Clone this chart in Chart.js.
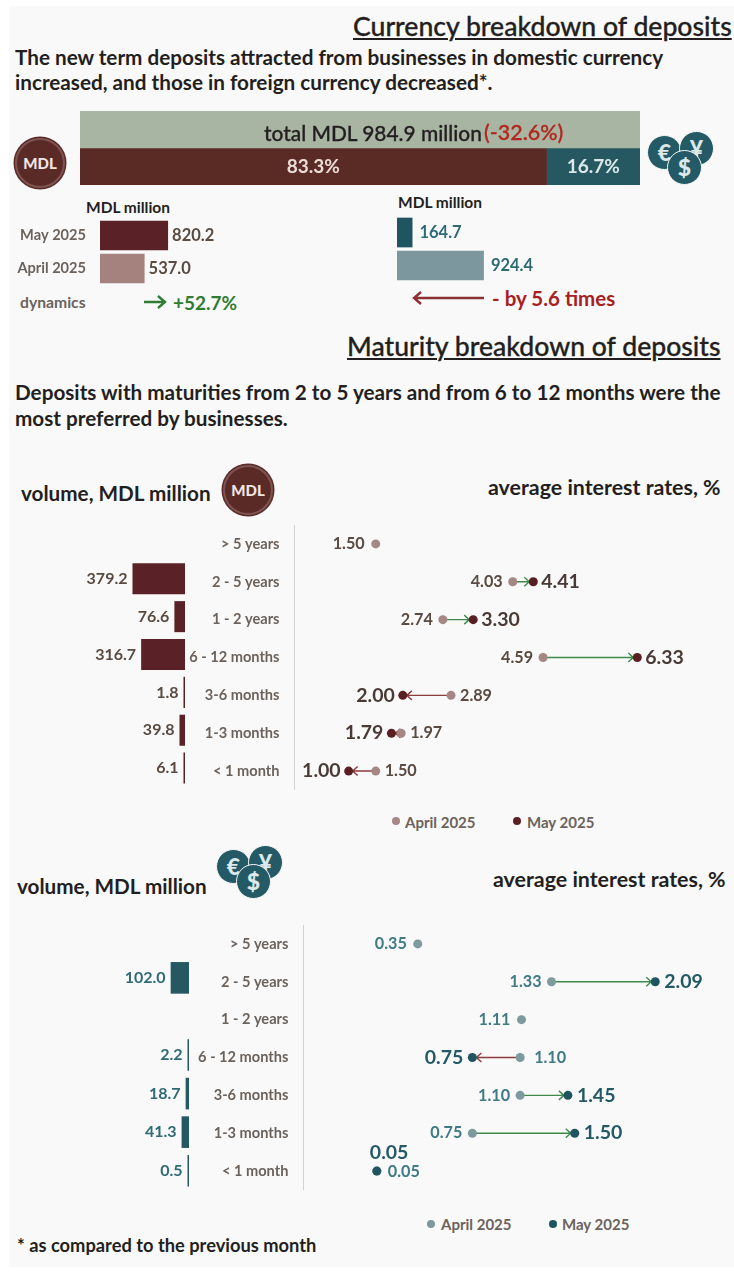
<!DOCTYPE html>
<html>
<head>
<meta charset="utf-8">
<title>Deposits breakdown</title>
<script src="https://cdn.jsdelivr.net/npm/chart.js@4"></script>
<style>
html, body { margin: 0; padding: 0; background: #fff; }
#page { position: relative; width: 734px; height: 1272px; overflow: hidden; font-family: Lato, sans-serif; color: #231f20; }
#panel { position: absolute; left: 9px; top: 6px; width: 725px; height: 1261px; background: #f9f9f9; }
canvas { position: absolute; }
.t { position: absolute; white-space: nowrap; line-height: 1; }
.h1 { font-size: 26.6px; font-weight: 500; -webkit-text-stroke: 0.3px #231f20; text-decoration: underline; text-decoration-thickness: 2px; text-underline-offset: 2px; }
.h2 { font-size: 20.7px; font-weight: 700; }
.unit { font-size: 15.5px; font-weight: 700; }
.vol { font-size: 20.7px; font-weight: 700; }
.rate { font-size: 21.4px; font-weight: 700; }
.lg { font-size: 15px; font-weight: 700; color: #6b625c; }
.dot { position: absolute; width: 8px; height: 8px; border-radius: 50%; }
.mdl { position: absolute; width: 46px; height: 46px; border-radius: 50%; background: #5a2a27; border: 2px solid #7d5450; box-shadow: 0 0 0 1.5px #5a2a27; color: #f0e6e3; font: 900 15px/46px Lato, sans-serif; text-align: center; }
.fx { position: absolute; width: 66px; height: 52px; }
.coin { position: absolute; width: 33px; height: 33px; border-radius: 50%; background: #245a65; border: 1px solid #f9f9f9; color: #dce8ea; font: 900 23px/33px Lato, sans-serif; text-align: center; }
</style>
</head>
<body>
<div id="page">
  <div id="panel"></div>

  <div class="t h1" style="left:353px;top:13px">Currency breakdown of deposits</div>
  <div class="t h2" style="left:15px;top:47px">The new term deposits attracted from businesses in domestic currency</div>
  <div class="t h2" style="left:15px;top:72px">increased, and those in foreign currency decreased*.</div>

  <canvas id="shareChart" width="560" height="74" style="left:80px;top:111px"></canvas>
  <div class="t" style="left:264px;top:123px;font-size:20.9px;font-weight:500;-webkit-text-stroke:0.3px #231f20">total MDL 984.9 million</div>
  <div class="t" style="left:484px;top:122px;font-size:21.5px;font-weight:500;color:#b3261e;-webkit-text-stroke:0.3px #b3261e">(-32.6%)</div>
  <div class="mdl" style="left:15px;top:138px">MDL</div>
  <div class="fx" style="left:647px;top:131px">
    <div class="coin" style="left:0;top:4px">€</div>
    <div class="coin" style="left:32px;top:0">¥</div>
    <div class="coin" style="left:20px;top:19px">$</div>
  </div>

  <div class="t unit" style="left:86px;top:200px">MDL million</div>
  <div class="t unit" style="left:398px;top:195px">MDL million</div>
  <canvas id="mdlTotalChart" width="339" height="66" style="left:10px;top:219px"></canvas>
  <canvas id="fxTotalChart" width="282" height="66" style="left:397px;top:216px"></canvas>

  <div class="t" style="left:20px;top:295px;font-size:15.7px;font-weight:700;color:#6b625c">dynamics</div>
  <svg style="position:absolute;left:140px;top:292px" width="30" height="20"><path d="M4 10H25M18 4L25 10L18 16" fill="none" stroke="#2f7d32" stroke-width="2.4"/></svg>
  <div class="t" style="left:173px;top:293px;font-size:19px;font-weight:700;color:#2f7d32">+52.7%</div>
  <svg style="position:absolute;left:410px;top:288px" width="78" height="20"><path d="M74 10H4M11 4L4 10L11 16" fill="none" stroke="#8d3033" stroke-width="2.4"/></svg>
  <div class="t" style="left:492px;top:288px;font-size:20.5px;font-weight:700;color:#a8201f">- by 5.6 times</div>

  <div class="t h1" style="left:347px;top:333px">Maturity breakdown of deposits</div>
  <div class="t h2" style="left:15px;top:382px">Deposits with maturities from 2 to 5 years and from 6 to 12 months were the</div>
  <div class="t h2" style="left:15px;top:408px">most preferred by businesses.</div>

  <div class="t vol" style="left:21px;top:483px">volume, MDL million</div>
  <div class="mdl" style="left:223px;top:465px">MDL</div>
  <div class="t rate" style="left:488px;top:477px">average interest rates, %</div>
  <canvas id="mdlVolumeChart" width="185" height="265" style="left:0;top:522px"></canvas>
  <canvas id="mdlRateChart" width="549" height="265" style="left:185px;top:525px"></canvas>
  <div class="dot" style="left:392px;top:817px;background:#a58784"></div>
  <div class="t lg" style="left:405px;top:815px">April 2025</div>
  <div class="dot" style="left:513px;top:817px;background:#5a1f22"></div>
  <div class="t lg" style="left:527px;top:815px">May 2025</div>

  <div class="t vol" style="left:17px;top:876px">volume, MDL million</div>
  <div class="fx" style="left:216px;top:845px">
    <div class="coin" style="left:0;top:4px">€</div>
    <div class="coin" style="left:32px;top:0">¥</div>
    <div class="coin" style="left:20px;top:19px">$</div>
  </div>
  <div class="t rate" style="left:493px;top:869px">average interest rates, %</div>
  <canvas id="fxVolumeChart" width="189" height="270" style="left:0;top:920px"></canvas>
  <canvas id="fxRateChart" width="545" height="265" style="left:189px;top:925px"></canvas>
  <div class="dot" style="left:427px;top:1220px;background:#7d9a9d"></div>
  <div class="t lg" style="left:441px;top:1217px">April 2025</div>
  <div class="dot" style="left:549px;top:1220px;background:#1f5560"></div>
  <div class="t lg" style="left:562px;top:1217px">May 2025</div>

  <div class="t" style="left:17px;top:1236px;font-size:18.3px;font-weight:700">* as compared to the previous month</div>
</div>

<script>
// Share of the total by currency
const shareRows = ["total", "split"];
const shareTotal = [100, null];
const shareMdl = [null, 83.3];
const shareFx = [null, 16.7];

// Volumes by month, MDL million
const monthLabels = ["May 2025", "April 2025"];
const mdlMonthly = [820.2, 537.0];
const fxMonthly = [164.7, 924.4];

// Maturity breakdown
const maturities = ["> 5 years", "2 - 5 years", "1 - 2 years", "6 - 12 months", "3-6 months", "1-3 months", "< 1 month"];
const mdlVolume = [null, 379.2, 76.6, 316.7, 1.8, 39.8, 6.1];
const mdlRateApril = [1.50, 4.03, 2.74, 4.59, 2.89, 1.97, 1.50];
const mdlRateMay = [null, 4.41, 3.30, 6.33, 2.00, 1.79, 1.00];
const fxVolume = [null, 102.0, null, 2.2, 18.7, 41.3, 0.5];
const fxRateApril = [0.35, 1.33, 1.11, 1.10, 1.10, 0.75, 0.05];
const fxRateMay = [null, 2.09, null, 0.75, 1.45, 1.50, 0.05];

const FONT = "Lato, sans-serif";
const GREEN = "#3f8a4a";
const RED = "#8d3b3b";
const TICK_FONT = { family: FONT, size: 14.6, weight: "700" };

// Writes the value next to each bar, or in the middle of it
const barTextPlugin = {
    id: "barText",
    afterDatasetsDraw(chart) {
        const ctx = chart.ctx;
        chart.data.datasets.forEach((ds, d) => {
            if (!ds.textColor) return;
            chart.getDatasetMeta(d).data.forEach((el, i) => {
                const v = ds.data[i];
                if (v === null) return;
                ctx.save();
                ctx.font = ds.textFont;
                ctx.fillStyle = ds.textColor;
                ctx.textBaseline = "middle";
                if (ds.textCenter) {
                    ctx.textAlign = "center";
                    ctx.fillText(v.toFixed(1) + "%", (el.x + el.base) / 2, el.y);
                } else {
                    const dir = el.x > el.base ? 1 : -1;
                    ctx.textAlign = dir > 0 ? "left" : "right";
                    ctx.fillText(v.toFixed(1), el.x + dir * ds.textGap, el.y);
                }
                ctx.restore();
            });
        });
    }
};

// Arrow from the April dot to the May dot, with the two rates written beside them
const rateArrowPlugin = {
    id: "rateArrow",
    beforeDatasetsDraw(chart) {
        const ctx = chart.ctx;
        const april = chart.getDatasetMeta(0).data;
        const may = chart.getDatasetMeta(1).data;
        const [aprilData, mayData] = chart.data.datasets.map(ds => ds.data);
        april.forEach((a, i) => {
            if (mayData[i] === null || mayData[i] === aprilData[i]) return;
            const m = may[i];
            const dir = mayData[i] > aprilData[i] ? 1 : -1;
            ctx.save();
            ctx.strokeStyle = dir > 0 ? GREEN : RED;
            ctx.lineWidth = 1.4;
            ctx.beginPath();
            ctx.moveTo(a.x, a.y);
            ctx.lineTo(m.x, a.y);
            ctx.moveTo(m.x - dir * 9, a.y - 4.5);
            ctx.lineTo(m.x - dir * 4, a.y);
            ctx.lineTo(m.x - dir * 9, a.y + 4.5);
            ctx.stroke();
            ctx.restore();
        });
    },
    afterDatasetsDraw(chart, args, opts) {
        const ctx = chart.ctx;
        const april = chart.getDatasetMeta(0).data;
        const may = chart.getDatasetMeta(1).data;
        const [aprilData, mayData] = chart.data.datasets.map(ds => ds.data);
        const put = (text, x, y, align, font, color) => {
            ctx.font = font;
            ctx.fillStyle = color;
            ctx.textAlign = align;
            ctx.textBaseline = "middle";
            ctx.fillText(text, x, y);
        };
        ctx.save();
        april.forEach((a, i) => {
            const av = aprilData[i], mv = mayData[i];
            const smallFont = "700 16.2px " + FONT;
            const bigFont = "700 19.5px " + FONT;
            if (mv === null) {
                put(av.toFixed(2), a.x - 11, a.y, "right", smallFont, opts.color);
            } else if (mv === av) {
                // Same rate in both months, May goes above the dot
                put(av.toFixed(2), a.x + 11, a.y + 1, "left", smallFont, opts.color);
                put(mv.toFixed(2), may[i].x - 7, a.y - 18, "left", bigFont, opts.bigColor);
            } else if (mv > av) {
                put(av.toFixed(2), a.x - 10, a.y, "right", smallFont, opts.color);
                put(mv.toFixed(2), may[i].x + opts.bigGap, a.y, "left", bigFont, opts.bigColor);
            } else {
                put(av.toFixed(2), a.x + opts.rightGap, a.y, "left", smallFont, opts.color);
                put(mv.toFixed(2), may[i].x - opts.bigGap, a.y, "right", bigFont, opts.bigColor);
            }
        });
        ctx.restore();
    }
};

// Labels stop ticks.padding and half a line of text from being added above and below the plot
function fixAxis(scale, width) {
    if (!width) return;
    scale.width = width;
    scale.paddingTop = 0;
    scale.paddingBottom = 0;
}

// Horizontal bars growing from the axis
function barChart(id, labels, datasets, opts) {
    return new Chart(document.getElementById(id), {
        type: "bar",
        data: { labels: labels, datasets: datasets },
        options: {
            indexAxis: "y",
            responsive: false,
            animation: false,
            layout: { padding: 0, autoPadding: false },
            plugins: { legend: { display: false }, tooltip: { enabled: false } },
            scales: {
                x: { display: false, min: 0, max: opts.xMax, reverse: !!opts.reverse, stacked: !!opts.stacked },
                y: {
                    display: !!opts.yWidth,
                    stacked: !!opts.stacked,
                    grid: { display: false, drawTicks: false },
                    border: { display: false },
                    ticks: { padding: 14, color: "#6b625c", font: TICK_FONT },
                    afterFit(scale) { fixAxis(scale, opts.yWidth); }
                }
            }
        },
        plugins: [barTextPlugin]
    });
}

function rateChart(id, april, may, xMin, xMax, axisWidth, aprilColor, mayColor, labelOpts) {
    // first dataset is drawn on top in Chart.js, order puts May over April
    const point = (c, data, label, order) => ({
        label: label, data: data, order: order, showLine: false,
        pointRadius: 4.5, pointBackgroundColor: c, pointBorderColor: c, pointBorderWidth: 0
    });
    return new Chart(document.getElementById(id), {
        type: "line",
        data: { labels: maturities, datasets: [point(aprilColor, april, "April 2025", 1), point(mayColor, may, "May 2025", 0)] },
        options: {
            indexAxis: "y",
            responsive: false,
            animation: false,
            layout: { padding: 0, autoPadding: false },
            plugins: {
                legend: { display: false },
                tooltip: { enabled: false },
                rateArrow: labelOpts
            },
            scales: {
                x: { display: false, min: xMin, max: xMax },
                y: {
                    offset: true,
                    grid: { display: false, drawTicks: false },
                    border: { display: true, color: "#d2d2d2", width: 1 },
                    ticks: { padding: 15, autoSkip: false, color: "#6b625c", font: TICK_FONT },
                    afterFit(scale) { fixAxis(scale, axisWidth); }
                }
            }
        },
        plugins: [rateArrowPlugin]
    });
}

window.onload = function() {
    const whole = { categoryPercentage: 1, barPercentage: 1 };
    barChart("shareChart", shareRows, [
        { data: shareTotal, backgroundColor: "#a9b5a3", ...whole },
        { data: shareMdl, backgroundColor: "#5a2a25", textColor: "#ecdcd6", textFont: "700 19px " + FONT, textCenter: true, ...whole },
        { data: shareFx, backgroundColor: "#265862", textColor: "#dbe7e9", textFont: "700 19px " + FONT, textCenter: true, ...whole }
    ], { xMax: 100, stacked: true });

    const monthly = { categoryPercentage: 1, barPercentage: 0.9, textFont: "700 16.5px " + FONT, textGap: 4 };
    barChart("mdlTotalChart", monthLabels, [
        { data: mdlMonthly, backgroundColor: ["#5a2126", "#a5827e"], textColor: "#5a4a40", ...monthly }
    ], { xMax: 3000, yWidth: 90 });
    barChart("fxTotalChart", monthLabels, [
        { data: fxMonthly, backgroundColor: ["#1f5560", "#7c979d"], textColor: "#2e6a74", ...monthly, textGap: 7 }
    ], { xMax: 3000 });

    const volume = { categoryPercentage: 1, barPercentage: 0.82, minBarLength: 1.5, textFont: "700 16px " + FONT, textGap: 5 };
    barChart("mdlVolumeChart", maturities, [
        { data: mdlVolume, backgroundColor: "#5a2126", textColor: "#5a4a40", ...volume }
    ], { xMax: 1336, reverse: true });
    rateChart("mdlRateChart", mdlRateApril, mdlRateMay, 0, 8.116, 109.5, "#a58784", "#5a1f22",
        { bigGap: 8, rightGap: 9, color: "#5a4a40", bigColor: "#4a3a35" });

    barChart("fxVolumeChart", maturities, [
        { data: fxVolume, backgroundColor: "#265862", textColor: "#2e6a74", ...volume }
    ], { xMax: 1050, reverse: true });
    rateChart("fxRateChart", fxRateApril, fxRateMay, -0.488, 2.667, 114.4, "#7d9a9d", "#1f5560",
        { bigGap: 9, rightGap: 14, color: "#3f7a85", bigColor: "#245a65" });
};
</script>
</body>
</html>
